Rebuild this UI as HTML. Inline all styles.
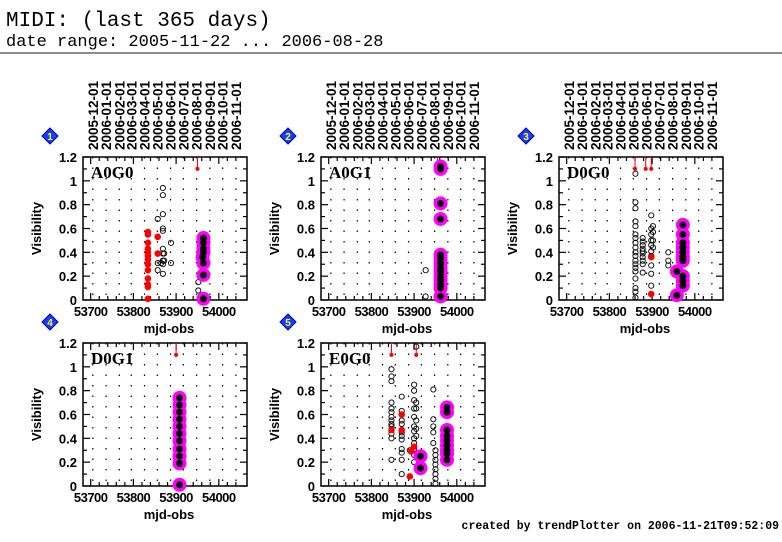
<!DOCTYPE html>
<html><head><meta charset="utf-8"><style>
body{margin:0;background:#fff;width:782px;height:542px;overflow:hidden}
svg{display:block}
text{font-family:"Liberation Sans",sans-serif}
</style></head><body>
<svg id="c" width="782" height="542">
<text x="6" y="26" font-size="21" style="font-family:'Liberation Mono',monospace">MIDI: (last 365 days)</text>
<text x="6" y="46" font-size="17" style="font-family:'Liberation Mono',monospace">date range: 2005-11-22 ... 2006-08-28</text>
<line x1="0" y1="53" x2="782" y2="53" stroke="#666" stroke-width="1.5"/>
<text x="779" y="529" text-anchor="end" font-size="11.5" font-weight="bold" style="font-family:'Liberation Mono',monospace">created by trendPlotter on 2006-11-21T09:52:09</text>
</svg>
<script>
const months=["2005-12-01","2006-01-01","2006-02-01","2006-03-01","2006-04-01","2006-05-01","2006-06-01","2006-07-01","2006-08-01","2006-09-01","2006-10-01","2006-11-01"];
const monthMjd=[53705,53736,53767,53795,53826,53856,53887,53917,53948,53979,54009,54040];
const xTicks=[53700,53800,53900,54000];
const yTicks=[0,0.2,0.4,0.6,0.8,1,1.2];
const yTickLabels=["0","0.2","0.4","0.6","0.8","1","1.2"];
const panelNames=["A0G0","A0G1","D0G0","D0G1","E0G0"];
// red filled points
const red1=[[53834,0.57],[53834,0.55],[53834,0.48],[53834,0.43],[53834,0.40],[53834,0.37],[53834,0.34],[53834,0.30],[53834,0.25],[53834,0.18],[53834,0.13],[53834,0.11],[53834,0.01],[53857,0.53],[53857,0.39]];
const red2=[];
const red3=[[53898,0.05],[53898,0.36]];
const red4=[];
const red5=[[53847,0.47],[53871,0.60],[53871,0.47],[53893,0.29],[53900,0.33],[53890,0.08]];
// flagged (off-scale) red markers
const flag1=[53950];
const flag2=[53955];
const flag3=[53860,53885,53898];
const flag4=[53900];
const flag5=[53847,53905];
// open black circles
const open1=[[53857,0.68],[53857,0.31],[53857,0.25],[53869,0.94],[53869,0.88],[53869,0.72],[53869,0.60],[53869,0.58],[53869,0.43],[53869,0.39],[53869,0.33],[53869,0.30],[53869,0.22],[53872,0.39],[53872,0.33],[53888,0.48],[53888,0.31],[53952,0.15],[53952,0.08],[53865,0.31]];
const open2=[[53927,0.25],[53927,0.03]];
const open3=[[53861,1.06],[53861,0.82],[53861,0.77],[53861,0.66],[53861,0.62],[53861,0.55],[53861,0.52],[53861,0.48],[53861,0.44],[53861,0.40],[53861,0.37],[53861,0.33],[53861,0.30],[53861,0.27],[53861,0.24],[53861,0.18],[53861,0.10],[53861,0.07],[53861,0.02],[53878,0.52],[53878,0.49],[53878,0.46],[53878,0.43],[53878,0.41],[53878,0.39],[53878,0.36],[53878,0.33],[53878,0.30],[53878,0.23],[53898,0.71],[53898,0.60],[53898,0.55],[53898,0.50],[53898,0.46],[53898,0.41],[53898,0.37],[53898,0.29],[53898,0.22],[53898,0.12],[53902,0.62],[53902,0.57],[53902,0.50],[53902,0.44],[53938,0.40],[53938,0.33],[53938,0.29]];
const open4=[];
const open5=[[53847,0.98],[53847,0.92],[53847,0.88],[53847,0.70],[53847,0.65],[53847,0.62],[53847,0.58],[53847,0.55],[53847,0.52],[53847,0.50],[53847,0.44],[53847,0.40],[53847,0.22],[53871,0.75],[53871,0.63],[53871,0.55],[53871,0.52],[53871,0.45],[53871,0.42],[53871,0.39],[53871,0.31],[53871,0.28],[53871,0.22],[53871,0.10],[53890,0.30],[53900,0.85],[53900,0.80],[53900,0.72],[53900,0.65],[53900,0.58],[53900,0.50],[53900,0.46],[53900,0.40],[53900,0.36],[53900,0.31],[53900,0.26],[53900,0.20],[53905,0.70],[53905,0.65],[53905,0.55],[53905,0.48],[53905,0.42],[53905,1.17],[53945,0.81],[53945,0.56],[53945,0.50],[53945,0.45],[53945,0.36],[53950,0.30],[53950,0.26],[53950,0.22],[53950,0.18],[53950,0.14],[53950,0.10],[53950,0.06],[53950,0.02]];
// magenta selected points (black dot in magenta halo)
const sel1=[[53964,0.52],[53964,0.48],[53964,0.43],[53964,0.40],[53962,0.36],[53964,0.31],[53964,0.21],[53964,0.01]];
const sel2=[[53962,1.12],[53962,1.10],[53962,0.81],[53962,0.68],[53962,0.38],[53962,0.35],[53962,0.31],[53962,0.27],[53962,0.24],[53962,0.20],[53962,0.17],[53962,0.13],[53962,0.10],[53962,0.03]];
const sel3=[[53972,0.63],[53972,0.55],[53972,0.48],[53972,0.44],[53972,0.40],[53972,0.36],[53972,0.33],[53958,0.24],[53972,0.20],[53972,0.16],[53972,0.12],[53958,0.04]];
const sel4=[[53908,0.74],[53908,0.68],[53908,0.62],[53908,0.56],[53908,0.50],[53908,0.44],[53908,0.38],[53908,0.31],[53908,0.25],[53908,0.19],[53908,0.01]];
const sel5=[[53915,0.25],[53915,0.15],[53977,0.66],[53977,0.62],[53977,0.47],[53977,0.42],[53977,0.38],[53977,0.34],[53977,0.30],[53977,0.27],[53977,0.22]];
const reds=[red1,red2,red3,red4,red5],flags=[flag1,flag2,flag3,flag4,flag5],opens=[open1,open2,open3,open4,open5],sels=[sel1,sel2,sel3,sel4,sel5];

const NS="http://www.w3.org/2000/svg",svg=document.getElementById('c');
function mk(tag,attrs,parent,txt){const e=document.createElementNS(NS,tag);for(const k in attrs)e.setAttribute(k,attrs[k]);if(txt!==undefined)e.textContent=txt;(parent||svg).appendChild(e);return e;}
const W=164,H=143,XMIN=53682,XMAX=54066,YMAX=1.2;
const origins=[[83,157],[321,157],[559,157],[83,343],[321,343]];
origins.forEach((o,i)=>{
  const [x0,y0]=o;
  const sx=v=>x0+(v-XMIN)/(XMAX-XMIN)*W, sy=v=>y0+H-(v/YMAX)*H;
  const g=mk('g',{});
  
  
  monthMjd.forEach(m=>{const l=mk('line',{x1:sx(m),x2:sx(m),y1:y0,y2:y0+H,stroke:'#000','stroke-width':1.2,'stroke-dasharray':'1.5 9'},g);
    });
  if(i<3) monthMjd.forEach((m,k)=>{const t=mk('text',{x:0,y:0,transform:`translate(${sx(m)+5},${y0-7}) rotate(-90)`,'font-size':13.5,'font-weight':'bold'},g,months[k]);
    });
  const f=mk('rect',{x:x0,y:y0,width:W,height:H,fill:'none',stroke:'#000','stroke-width':1.5},g);
  
  for(let v=0;v<=1.2001;v+=0.1){const y=sy(v),len=Math.round(v*10)%2==0?7:4;
    mk('line',{x1:x0,x2:x0+len,y1:y,y2:y,stroke:'#000','stroke-width':1.2},g);
    mk('line',{x1:x0+W,x2:x0+W-len,y1:y,y2:y,stroke:'#000','stroke-width':1.2},g);}
  yTicks.forEach((v,k)=>{const t=mk('text',{x:x0-6,y:sy(v)+5,'text-anchor':'end','font-size':13,'font-weight':'bold'},g,yTickLabels[k]);
    });
  for(let v=53700;v<=54050;v+=20){const x=sx(v),len=v%100==0?7:4;
    mk('line',{x1:x,x2:x,y1:y0+H,y2:y0+H-len,stroke:'#000','stroke-width':1.2},g);
    mk('line',{x1:x,x2:x,y1:y0,y2:y0+len,stroke:'#000','stroke-width':1.2},g);}
  xTicks.forEach(v=>{const t=mk('text',{x:sx(v),y:y0+H+16,'text-anchor':'middle','font-size':13,'font-weight':'bold','letter-spacing':'-0.5'},g,String(v));
    });
  const xt=mk('text',{x:x0+W/2+4,y:y0+H+33,'text-anchor':'middle','font-size':13,'font-weight':'bold'},g,'mjd-obs');
  
  const yt=mk('text',{x:0,y:0,transform:`translate(${x0-42},${y0+H/2}) rotate(-90)`,'text-anchor':'middle','font-size':13,'font-weight':'bold'},g,'Visibility');
  
  const nm=mk('text',{x:x0+8,y:y0+21,'font-size':17,'font-weight':'bold'},g,panelNames[i]);
  nm.setAttribute('style','font-family:"Liberation Serif",serif');
  
  const bx=x0-33,by=y0-21;
  const bd=mk('polygon',{points:`${bx},${by-8} ${bx+8},${by} ${bx},${by+8} ${bx-8},${by}`,fill:'#1a3cff',stroke:'#0000aa'},g);
  
  mk('text',{x:bx,y:by+4,'text-anchor':'middle','font-size':10,'font-weight':'bold',fill:'#ff0'},g,String(i+1));
  flags[i].forEach(m=>{const l=mk('line',{x1:sx(m),x2:sx(m),y1:y0,y2:sy(1.1),stroke:'#f00','stroke-width':1},g);
    
    const c=mk('circle',{cx:sx(m),cy:sy(1.1),r:2,fill:'#f00'},g);
    });
  opens[i].forEach(p=>{const c=mk('circle',{cx:sx(p[0]),cy:sy(p[1]),r:2.6,fill:'none',stroke:'#000','stroke-width':0.9},g);
    });
  reds[i].forEach(p=>{const c=mk('circle',{cx:sx(p[0]),cy:sy(p[1]),r:3.3,fill:'#f00'},g);
    });
  sels[i].forEach(p=>{const c=mk('circle',{cx:sx(p[0]),cy:sy(p[1]),r:7,fill:'#f0f'},g);
    });
  sels[i].forEach(p=>{const c=mk('circle',{cx:sx(p[0]),cy:sy(p[1]),r:3.5,fill:'#000'},g);
    });
});
</script>
</body></html>
